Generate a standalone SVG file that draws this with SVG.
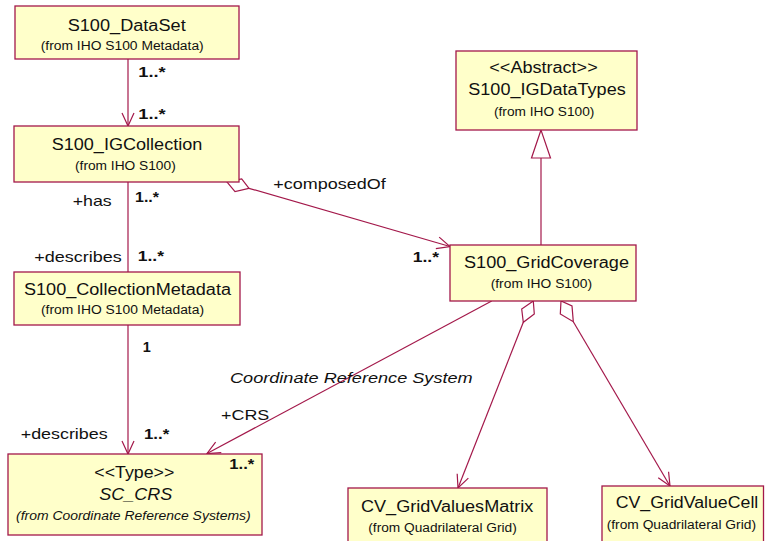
<svg xmlns="http://www.w3.org/2000/svg" width="765" height="541" viewBox="0 0 765 541">
  <style>
    .box { fill: #FFFFCA; stroke: #A3184A; stroke-width: 1.3; }
    .ln { fill: none; stroke: #A3184A; stroke-width: 1.2; }
    .dia { fill: #FFFFFF; stroke: #A3184A; stroke-width: 1.2; }
    text { font-family: "Liberation Sans", Arial, sans-serif; fill: #111111; }
    .t { font-size: 16px; }
    .s { font-size: 12.5px; }
    .l { font-size: 15px; }
    .m { font-size: 14.5px; font-weight: bold; }
    .i { font-style: italic; }
  </style>
  <defs>
    <marker id="open" markerUnits="userSpaceOnUse" markerWidth="16" markerHeight="14" refX="13" refY="6" orient="auto" overflow="visible">
      <path d="M0,0 L13,6 L0,12" fill="none" stroke="#A3184A" stroke-width="1.2"/>
    </marker>
  </defs>

  <!-- associations, aggregations and generalization -->
  <g id="connectors">
    <line class="ln" x1="128" y1="59" x2="128" y2="126" marker-end="url(#open)"/>
    <line class="ln" x1="128" y1="182" x2="128" y2="272"/>
    <line class="ln" x1="128" y1="325" x2="128" y2="454" marker-end="url(#open)"/>
    <!-- composedOf aggregation -->
    <polygon class="dia" points="226.7,181.7 241.7,179 249,188.3 235,191.7"/>
    <line class="ln" x1="249" y1="188.3" x2="450" y2="246.5" marker-end="url(#open)"/>
    <!-- generalization to S100_IGDataTypes -->
    <line class="ln" x1="541" y1="158" x2="541" y2="245"/>
    <polygon class="dia" points="541,130 531.5,158 550.5,158"/>
    <!-- CRS association -->
    <line class="ln" x1="491.7" y1="301" x2="207" y2="453.5" marker-end="url(#open)"/>
    <!-- grid value aggregations -->
    <polygon class="dia" points="533.3,301 521.7,309 523.3,322.3 534.3,314"/>
    <line class="ln" x1="523.3" y1="322.3" x2="458" y2="488" marker-end="url(#open)"/>
    <polygon class="dia" points="561,301 560.3,314 573.3,321.7 572,306"/>
    <line class="ln" x1="573.3" y1="321.7" x2="670" y2="486" marker-end="url(#open)"/>
  </g>

  <g id="S100_DataSet">
    <rect class="box" x="15" y="6" width="224" height="53"/>
    <text class="t" x="67.7" y="31" textLength="118" lengthAdjust="spacingAndGlyphs">S100_DataSet</text>
    <text class="s" x="40.7" y="50" textLength="163" lengthAdjust="spacingAndGlyphs">(from IHO S100 Metadata)</text>
  </g>

  <g id="S100_IGCollection">
    <rect class="box" x="14" y="126" width="225" height="56"/>
    <text class="t" x="51.7" y="150" textLength="150.6" lengthAdjust="spacingAndGlyphs">S100_IGCollection</text>
    <text class="s" x="75" y="170" textLength="100.7" lengthAdjust="spacingAndGlyphs">(from IHO S100)</text>
  </g>

  <g id="S100_CollectionMetadata">
    <rect class="box" x="14" y="272" width="226" height="53"/>
    <text class="t" x="24" y="295" textLength="207" lengthAdjust="spacingAndGlyphs">S100_CollectionMetadata</text>
    <text class="s" x="41" y="314" textLength="163" lengthAdjust="spacingAndGlyphs">(from IHO S100 Metadata)</text>
  </g>

  <g id="SC_CRS">
    <rect class="box" x="8" y="454" width="254" height="81"/>
    <text class="t" x="94.3" y="478.3" textLength="80" lengthAdjust="spacingAndGlyphs">&lt;&lt;Type&gt;&gt;</text>
    <text class="t i" x="99.3" y="500" textLength="73" lengthAdjust="spacingAndGlyphs">SC_CRS</text>
    <text class="s i" x="16" y="520" textLength="234.7" lengthAdjust="spacingAndGlyphs">(from Coordinate Reference Systems)</text>
  </g>

  <g id="S100_IGDataTypes">
    <rect class="box" x="456" y="51" width="181" height="79"/>
    <text class="t" x="489.3" y="73.3" textLength="108.4" lengthAdjust="spacingAndGlyphs">&lt;&lt;Abstract&gt;&gt;</text>
    <text class="t" x="468.3" y="95" textLength="157.4" lengthAdjust="spacingAndGlyphs">S100_IGDataTypes</text>
    <text class="s" x="494" y="116" textLength="100.3" lengthAdjust="spacingAndGlyphs">(from IHO S100)</text>
  </g>

  <g id="S100_GridCoverage">
    <rect class="box" x="450" y="245" width="186" height="56"/>
    <text class="t" x="464" y="267.7" textLength="165" lengthAdjust="spacingAndGlyphs">S100_GridCoverage</text>
    <text class="s" x="490.7" y="288.3" textLength="101.3" lengthAdjust="spacingAndGlyphs">(from IHO S100)</text>
  </g>

  <g id="CV_GridValuesMatrix">
    <rect class="box" x="348" y="488" width="199" height="60"/>
    <text class="t" x="361" y="511.7" textLength="172.3" lengthAdjust="spacingAndGlyphs">CV_GridValuesMatrix</text>
    <text class="s" x="368.3" y="531.7" textLength="148.4" lengthAdjust="spacingAndGlyphs">(from Quadrilateral Grid)</text>
  </g>

  <g id="CV_GridValueCell">
    <rect class="box" x="602" y="486" width="161.5" height="60"/>
    <text class="t" x="615.7" y="507.7" textLength="142.6" lengthAdjust="spacingAndGlyphs">CV_GridValueCell</text>
    <text class="s" x="606.7" y="529.3" textLength="149.3" lengthAdjust="spacingAndGlyphs">(from Quadrilateral Grid)</text>
  </g>

  <!-- role names and multiplicities -->
  <g id="labels">
    <text class="m" x="138.3" y="77.3" textLength="27.4" lengthAdjust="spacingAndGlyphs">1..*</text>
    <text class="m" x="138.3" y="119" textLength="27.4" lengthAdjust="spacingAndGlyphs">1..*</text>
    <text class="l" x="72.7" y="206" textLength="39" lengthAdjust="spacingAndGlyphs">+has</text>
    <text class="m" x="135" y="201.7" textLength="24" lengthAdjust="spacingAndGlyphs">1..*</text>
    <text class="l" x="34.3" y="261.7" textLength="87.4" lengthAdjust="spacingAndGlyphs">+describes</text>
    <text class="m" x="137.7" y="260.7" textLength="26.3" lengthAdjust="spacingAndGlyphs">1..*</text>
    <text class="m" x="142.7" y="351.7">1</text>
    <text class="l" x="20.7" y="439" textLength="87" lengthAdjust="spacingAndGlyphs">+describes</text>
    <text class="m" x="144" y="439.3" textLength="25.3" lengthAdjust="spacingAndGlyphs">1..*</text>
    <text class="l" x="221" y="420" textLength="48.3" lengthAdjust="spacingAndGlyphs">+CRS</text>
    <text class="m" x="229.3" y="469" textLength="25" lengthAdjust="spacingAndGlyphs">1..*</text>
    <text class="l i" x="230" y="382.5" textLength="242.7" lengthAdjust="spacingAndGlyphs">Coordinate Reference System</text>
    <text class="l" x="273.3" y="189" textLength="112.4" lengthAdjust="spacingAndGlyphs">+composedOf</text>
    <text class="m" x="412.7" y="261.5" textLength="26.3" lengthAdjust="spacingAndGlyphs">1..*</text>
  </g>
</svg>
